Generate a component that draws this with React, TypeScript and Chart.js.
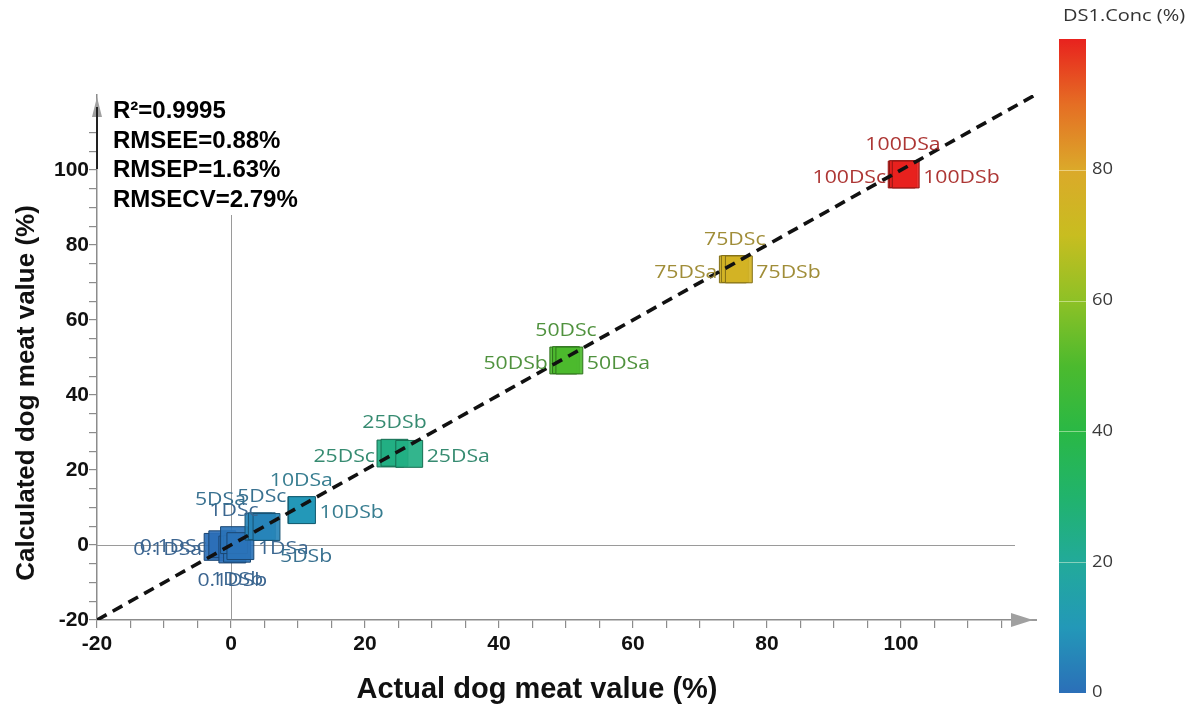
import React, { useEffect, useRef } from 'react';
import { Chart, registerables } from 'chart.js';

Chart.register(...registerables);

// ---------------- DATA ----------------
const sampleNames = [
  '0.1DSa', '0.1DSc', '0.1DSb',
  '1DSb', '1DSc', '1DSa',
  '5DSa', '5DSc', '5DSb',
  '10DSa', '10DSb',
  '25DSc', '25DSb', '25DSa',
  '50DSb', '50DSc', '50DSa',
  '75DSa', '75DSc', '75DSb',
  '100DSc', '100DSa', '100DSb',
];
const concentration = [
  0.1, 0.1, 0.1,
  1, 1, 1,
  5, 5, 5,
  10, 10,
  25, 25, 25,
  50, 50, 50,
  75, 75, 75,
  100, 100, 100,
];
const actualValues = [
  -2.0, -1.3, 0.2,
  0.9, 0.45, 1.4,
  4.1, 4.6, 5.3,
  10.5, 10.6,
  23.8, 24.4, 26.6,
  49.6, 50.0, 50.5,
  74.9, 75.2, 75.8,
  100.1, 100.3, 100.7,
];
const calculatedValues = [
  -0.5, 0.2, -1.2,
  -1.0, 1.3, -0.3,
  4.9, 5.0, 4.8,
  9.3, 9.3,
  24.4, 24.6, 24.3,
  49.2, 49.3, 49.2,
  73.5, 73.6, 73.5,
  98.8, 98.9, 98.8,
];
const fitLineX = [-20, 120];
const fitLineY = [-20, 120];
const axisTickLabels = [-20, 0, 20, 40, 60, 80, 100];
const colorbarTicks = [0, 20, 40, 60, 80];
const colorbarRange = [0, 100];
const statLines = ['R\u00B2=0.9995', 'RMSEE=0.88%', 'RMSEP=1.63%', 'RMSECV=2.79%'];
const xTitle = 'Actual dog meat value (%)';
const yTitle = 'Calculated dog meat value (%)';
const colorbarTitle = 'DS1.Conc (%)';

// ---------------- STYLE ----------------
const LABEL_SIDE: Record<string, string> = {
  '0.1DSa': 'left', '0.1DSc': 'left', '0.1DSb': 'bottom',
  '1DSb': 'bottom', '1DSc': 'top', '1DSa': 'right',
  '5DSa': 'topleft', '5DSc': 'top', '5DSb': 'bottomright',
  '10DSa': 'top', '10DSb': 'right',
  '25DSc': 'left', '25DSb': 'top', '25DSa': 'right',
  '50DSb': 'left', '50DSc': 'top', '50DSa': 'right',
  '75DSa': 'left', '75DSc': 'top', '75DSb': 'right',
  '100DSc': 'left', '100DSa': 'top', '100DSb': 'right',
};

const CMAP: [number, [number, number, number]][] = [
  [0, [43, 111, 184]],
  [10, [35, 152, 184]],
  [20, [34, 170, 154]],
  [30, [33, 179, 108]],
  [40, [42, 184, 69]],
  [50, [76, 186, 46]],
  [60, [142, 193, 38]],
  [70, [200, 189, 32]],
  [80, [219, 169, 42]],
  [90, [229, 110, 36]],
  [100, [232, 34, 30]],
];

function cmapRGB(v: number): [number, number, number] {
  if (v <= CMAP[0][0]) return CMAP[0][1];
  for (let i = 1; i < CMAP.length; i++) {
    const [v1, c1] = CMAP[i];
    const [v0, c0] = CMAP[i - 1];
    if (v <= v1) {
      const t = (v - v0) / (v1 - v0);
      return [0, 1, 2].map((k) => Math.round(c0[k] + (c1[k] - c0[k]) * t)) as [number, number, number];
    }
  }
  return CMAP[CMAP.length - 1][1];
}
const rgba = (c: number[], a = 1) => `rgba(${c[0]},${c[1]},${c[2]},${a})`;
const fillColor = (v: number) => rgba(cmapRGB(v), 0.92);
const edgeColor = (v: number) => rgba(cmapRGB(v).map((x) => x * 0.62), 1);
const labelColor = (v: number) => rgba(cmapRGB(v).map((x) => x * 0.6 + 85 * 0.4), 1);

const AXIS_GRAY = '#8c8c8c';

function stretchedText(ctx: CanvasRenderingContext2D, text: string, x: number, y: number, sx: number) {
  ctx.save();
  ctx.translate(x, y);
  ctx.scale(sx, 1);
  ctx.fillText(text, 0, 0);
  ctx.restore();
}

const overlayPlugin = {
  id: 'overlay',
  beforeDatasetsDraw(chart: any) {
    const { ctx, scales } = chart;
    const xs = scales.x;
    const ys = scales.y;
    const ca = chart.chartArea;
    ctx.save();
    ctx.strokeStyle = '#9a9a9a';
    ctx.lineWidth = 1;
    ctx.beginPath();
    const y0 = Math.round(ys.getPixelForValue(0)) + 0.5;
    ctx.moveTo(ca.left, y0);
    ctx.lineTo(ca.right - 20, y0);
    const x0 = Math.round(xs.getPixelForValue(0)) + 0.5;
    ctx.moveTo(x0, ca.bottom);
    ctx.lineTo(x0, ys.getPixelForValue(88));
    ctx.stroke();
    ctx.fillStyle = '#9a9a9a';
    ctx.fillRect(ca.right - 24, ca.bottom - 1, 26, 2);
    ctx.fillStyle = '#a0a0a0';
    ctx.beginPath();
    ctx.moveTo(ca.right - 24, ca.bottom - 7);
    ctx.lineTo(ca.right - 2, ca.bottom);
    ctx.lineTo(ca.right - 24, ca.bottom + 7);
    ctx.closePath();
    ctx.fill();
    ctx.beginPath();
    ctx.moveTo(ca.left - 5, ca.top + 22);
    ctx.lineTo(ca.left, ca.top + 2);
    ctx.lineTo(ca.left + 5, ca.top + 22);
    ctx.closePath();
    ctx.fill();
    ctx.fillStyle = '#222';
    ctx.fillRect(ca.left - 1, ca.top + 12, 2, 62);
    ctx.restore();
  },
  afterDatasetsDraw(chart: any) {
    const { ctx } = chart;
    const meta = chart.getDatasetMeta(1);
    const sx = 1.18;
    ctx.save();
    ctx.font = "18px 'Open Sans', 'Noto Sans', sans-serif";
    ctx.textBaseline = 'middle';
    ctx.textAlign = 'left';
    meta.data.forEach((el: any, i: number) => {
      const name = sampleNames[i];
      const side = LABEL_SIDE[name] || 'right';
      const half = 13.5;
      const px = el.x;
      const py = el.y;
      const w = ctx.measureText(name).width * sx;
      ctx.fillStyle = labelColor(concentration[i]);
      let left = px;
      let ty = py;
      if (side === 'left') { left = px - half - 2 - w; ty = py + 3; }
      else if (side === 'right') { left = px + half + 4; ty = py + 3; }
      else if (side === 'top') { left = px - w / 2; ty = py - half - 16; }
      else if (side === 'bottom') { left = px - w / 2; ty = py + half + 18; }
      else if (side === 'topleft') { left = px - half + 1 - w; ty = py - half - 13; }
      else if (side === 'bottomright') { left = px + half; ty = py + half + 16; }
      stretchedText(ctx, name, left, ty, sx);
    });
    ctx.restore();
  },
  afterDraw(chart: any) {
    const { ctx } = chart;
    ctx.save();
    ctx.fillStyle = '#000';
    ctx.font = "bold 24px 'Liberation Sans', Arial, sans-serif";
    ctx.textAlign = 'left';
    ctx.textBaseline = 'alphabetic';
    statLines.forEach((s, i) => ctx.fillText(s, 113, 118 + i * 29.7));
    ctx.fillStyle = '#111';
    ctx.font = "bold 29px 'Liberation Sans', Arial, sans-serif";
    ctx.textAlign = 'center';
    ctx.textBaseline = 'middle';
    ctx.fillText(xTitle, 537, 690);
    ctx.save();
    ctx.translate(27, 393);
    ctx.rotate(-Math.PI / 2);
    ctx.font = "bold 26px 'Liberation Sans', Arial, sans-serif";
    ctx.fillText(yTitle, 0, 0);
    ctx.restore();
    // colorbar
    const barL = 1059, barW = 27, barTop = 39, barBot = 693;
    const span = colorbarRange[1] - colorbarRange[0];
    const vToY = (v: number) => barBot - ((v - colorbarRange[0]) / span) * (barBot - barTop);
    const grad = ctx.createLinearGradient(0, barBot, 0, barTop);
    CMAP.forEach(([v, c]) => grad.addColorStop((v - colorbarRange[0]) / span, rgba(c)));
    ctx.fillStyle = grad;
    ctx.fillRect(barL, barTop, barW, barBot - barTop);
    ctx.strokeStyle = 'rgba(255,255,230,0.45)';
    ctx.lineWidth = 1;
    colorbarTicks.forEach((t) => {
      if (t === colorbarRange[0]) return;
      const y = Math.round(vToY(t)) + 0.5;
      ctx.beginPath();
      ctx.moveTo(barL, y);
      ctx.lineTo(barL + barW, y);
      ctx.stroke();
    });
    ctx.fillStyle = '#3a3a3a';
    ctx.font = "16px 'Open Sans', 'Noto Sans', sans-serif";
    ctx.textAlign = 'left';
    ctx.textBaseline = 'middle';
    colorbarTicks.forEach((t) => stretchedText(ctx, String(t), barL + barW + 6, Math.min(vToY(t), barBot - 1), 1.15));
    ctx.font = "16px 'Open Sans', 'Noto Sans', sans-serif";
    ctx.fillStyle = '#333';
    stretchedText(ctx, colorbarTitle, 1063, 16, 1.25);
    ctx.restore();
  },
};

export default function App() {
  const ref = useRef<HTMLCanvasElement | null>(null);
  useEffect(() => {
    if (!ref.current) return;
    const points = actualValues.map((x, i) => ({ x, y: calculatedValues[i] }));
    const linePts = fitLineX.map((x, i) => ({ x, y: fitLineY[i] }));
    const gridColor = (limit: number) => (c: any) => (c.tick && c.tick.value > limit ? 'rgba(0,0,0,0)' : AXIS_GRAY);
    const tickCb = (v: any) => (axisTickLabels.includes(Number(v)) ? String(v) : '');
    const tickFont = { family: "'Liberation Sans', Arial, sans-serif", size: 21, weight: 'bold' };
    const chart = new Chart(ref.current, {
      type: 'scatter',
      data: {
        datasets: [
          {
            type: 'line',
            data: linePts,
            borderColor: '#111',
            borderWidth: 3.6,
            borderDash: [11, 7],
            pointRadius: 0,
            fill: false,
            order: 0,
          } as any,
          {
            type: 'scatter',
            data: points,
            pointStyle: 'rect',
            pointRadius: 19,
            pointHoverRadius: 19,
            backgroundColor: concentration.map(fillColor),
            borderColor: concentration.map(edgeColor),
            borderWidth: 1,
            order: 1,
          } as any,
        ],
      },
      options: {
        animation: false,
        responsive: false,
        devicePixelRatio: 1,
        events: [],
        layout: { padding: { left: 0, right: 1189 - 1035, top: 95, bottom: 0 } },
        plugins: { legend: { display: false }, tooltip: { enabled: false } },
        scales: {
          x: {
            type: 'linear',
            min: -20,
            max: 120,
            afterFit: (s: any) => { s.height = 87; },
            border: { display: true, color: AXIS_GRAY, width: 1.5 },
            grid: { drawOnChartArea: false, drawTicks: true, tickLength: 8, color: gridColor(115), lineWidth: 1.2 },
            ticks: { stepSize: 5, autoSkip: false, maxRotation: 0, minRotation: 0, padding: 4, color: '#111', font: tickFont, callback: tickCb },
          },
          y: {
            type: 'linear',
            min: -20,
            max: 120,
            afterFit: (s: any) => { s.width = 97; },
            border: { display: true, color: AXIS_GRAY, width: 1.5 },
            grid: { drawOnChartArea: false, drawTicks: true, tickLength: 8, color: gridColor(110), lineWidth: 1.2 },
            ticks: { stepSize: 5, autoSkip: false, padding: 0, color: '#111', font: tickFont, callback: tickCb },
          },
        },
      } as any,
      plugins: [overlayPlugin],
    });
    return () => chart.destroy();
  }, []);
  return (
    <div style={{ position: 'absolute', left: 0, top: 0, width: 1189, height: 707, background: '#fff' }}>
      <canvas ref={ref} width={1189} height={707} style={{ display: 'block', width: 1189, height: 707 }} />
    </div>
  );
}
